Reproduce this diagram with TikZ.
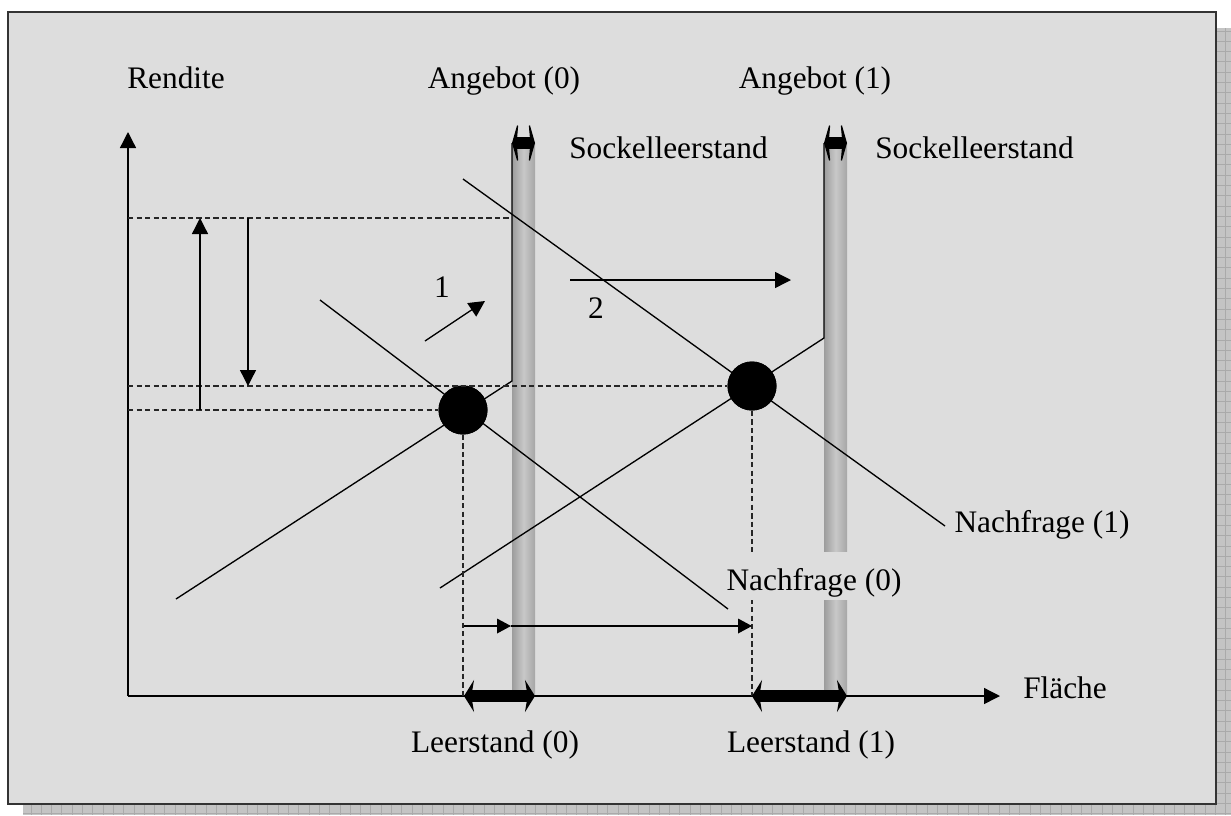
\documentclass[tikz,border=0pt]{standalone}
\usepackage{fontspec}
\setmainfont{Liberation Serif}
\usetikzlibrary{arrows.meta}
\definecolor{panel}{HTML}{DDDDDD}
\definecolor{frameline}{HTML}{333333}
\definecolor{shadowfill}{HTML}{C4C4C4}
\definecolor{shadowgrid}{HTML}{AAAAAA}
\definecolor{baredge}{HTML}{9C9C9C}
\definecolor{barmid}{HTML}{C8C8C8}
\begin{document}
\begin{tikzpicture}[x=0.75pt,y=-0.75pt,
  thin/.style={line width=1pt},
  guide/.style={line width=1pt, dash pattern=on 4pt off 2.4pt, black!85},
  arr/.style={line width=1pt, -{Triangle[length=12pt,width=12pt]}},
  smallarr/.style={line width=1pt, -{Triangle[length=10.5pt,width=11pt]}},
  fatarr/.style={line width=9pt, {Stealth[length=7.5pt,width=24pt,inset=2pt]}-{Stealth[length=7.5pt,width=24pt,inset=2pt]}},
  caparr/.style={line width=9pt, {Stealth[length=5pt,width=35pt,inset=1.5pt]}-{Stealth[length=5pt,width=35pt,inset=1.5pt]}},
  bar/.style={left color=baredge, right color=baredge!90!white, middle color=barmid, draw=none},
  eq/.style={circle, fill=black, minimum size=36.75pt, inner sep=0pt},
  lbl/.style={font=\fontsize{23.5}{28}\selectfont, inner sep=0pt, anchor=base}]
\useasboundingbox (0,0) rectangle (1231,815);

% drop shadow with its fine grid
\begin{scope}
  \clip (1217,28) rectangle (1231,815) (23,805) rectangle (1231,815);
  \fill[shadowfill] (0,0) rectangle (1231,815);
  \draw[shadowgrid, line width=0.6pt, xstep=7.725pt, ystep=7.725pt] (0,0) grid (1231,815);
\end{scope}

% panel
\draw[frameline, line width=1.5pt, fill=panel] (8,12) rectangle (1216,804);

% coordinates
\coordinate (O) at (128,696);
\coordinate (ytip) at (128,132);
\coordinate (xtip) at (1000,696);
\coordinate (s0a) at (176,599);
\coordinate (s0k) at (512,381);
\coordinate (s0t) at (512,143);
\coordinate (s1a) at (440,588);
\coordinate (s1k) at (824,338);
\coordinate (s1t) at (824,143);
\coordinate (d0a) at (320,300);
\coordinate (d0b) at (728,609);
\coordinate (d1a) at (463,179);
\coordinate (d1b) at (945,526);
\coordinate (hiL) at (128,218);
\coordinate (hiR) at (512,218);
\coordinate (midL) at (128,386);
\coordinate (lowL) at (128,410);
\coordinate (e0f) at (463,696);
\coordinate (e1f) at (752,696);
\coordinate (upA) at (200,410);
\coordinate (upB) at (200,218);
\coordinate (dnA) at (248,218);
\coordinate (dnB) at (248,386);
\coordinate (oneA) at (425,341);
\coordinate (oneB) at (485,301);
\coordinate (twoA) at (570,280);
\coordinate (twoB) at (791,280);
\coordinate (vA) at (464,626);
\coordinate (vB) at (511,626);
\coordinate (vC) at (752,626);
\coordinate (l0a) at (464,696);
\coordinate (l0b) at (535,696);
\coordinate (l1a) at (752,696);
\coordinate (l1b) at (847,696);
\coordinate (c0a) at (512,143);
\coordinate (c0b) at (535,143);
\coordinate (c1a) at (824,143);
\coordinate (c1b) at (847,143);

% supply bars (stock capacity)
\shade[bar] (512,143) rectangle (535,696);
\shade[bar] (824,143) rectangle (847,696);

% axes
\draw[arr] (O) -- (ytip);
\draw[arr] (O) -- (xtip);

% equilibria
\node[eq] (e0) at (463,410) {};
\node[eq] (e1) at (752,386) {};

% supply and demand curves
\draw[thin] (s0a) -- (s0k) -- (s0t);
\draw[thin] (s1a) -- (s1k) -- (s1t);
\draw[thin] (d0a) -- (d0b);
\draw[thin] (d1a) -- (d1b);

% equilibrium dots on top of the curves
\fill (e0) circle[radius=24.5];
\fill (e1) circle[radius=24.5];

% guide lines
\draw[guide] (hiL) -- (hiR);
\draw[guide] (midL) -- (e1.west);
\draw[guide] (lowL) -- (e0.west);
\draw[guide] (e0.south) -- (e0f);
\draw[guide] (e1.south) -- (e1f);

% rent changes
\draw[arr] (upA) -- (upB);
\draw[arr] (dnA) -- (dnB);

% shifts
\draw[arr] (oneA) -- (oneB);
\draw[arr] (twoA) -- (twoB);
\draw[smallarr] (vA) -- (vB);
\draw[smallarr] (vB) -- (vC);

% vacancy spans
\draw[fatarr] (l0a) -- (l0b);
\draw[fatarr] (l1a) -- (l1b);
\draw[caparr] (c0a) -- (c0b);
\draw[caparr] (c1a) -- (c1b);

% labels
\node[lbl] (rendite) at (176,88) {Rendite};
\node[lbl] (ang0) at (504,88) {Angebot (0)};
\node[lbl] (ang1) at (815,88) {Angebot (1)};
\node[lbl, anchor=base west] (sock0) at (569,158) {Sockelleerstand};
\node[lbl, anchor=base west] (sock1) at (875,158) {Sockelleerstand};
\node[lbl] (flaeche) at (1065,698) {Fläche};
\node[lbl] (leer0) at (495,752) {Leerstand (0)};
\node[lbl] (leer1) at (811,752) {Leerstand (1)};
\node[lbl] (nach1) at (1042,532) {Nachfrage (1)};
\node[lbl, fill=panel, inner xsep=2pt, inner ysep=2.25pt, text height=26.25pt, text depth=5.25pt] (nach0) at (814,590) {Nachfrage (0)};
\node[lbl] (one) at (442,297) {1};
\node[lbl] (two) at (596,318) {2};
\end{tikzpicture}
\end{document}
